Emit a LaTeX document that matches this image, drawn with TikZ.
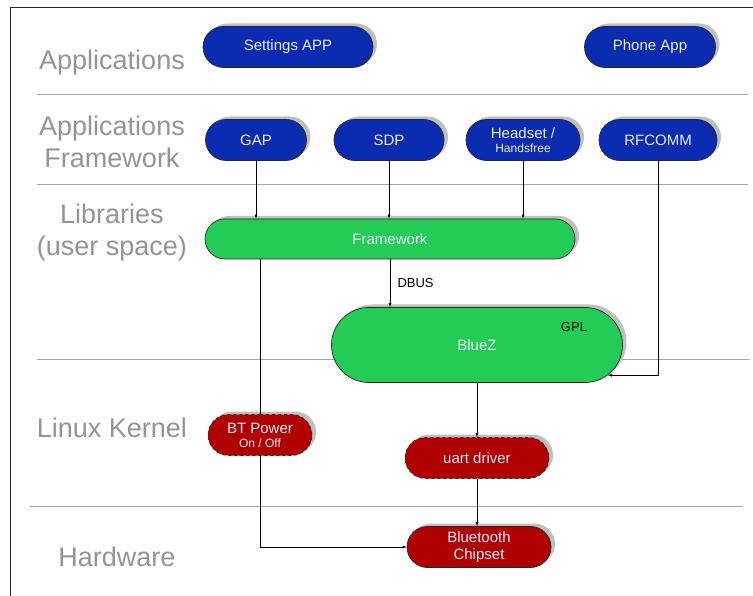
\documentclass[tikz,border=0pt]{standalone}
\usepackage{fontspec}
\setmainfont{Liberation Sans}
\usetikzlibrary{arrows,positioning,shapes.misc,shadows}

\definecolor{appblue}{RGB}{11,43,176}
\definecolor{libgreen}{RGB}{34,204,85}
\definecolor{kred}{RGB}{176,0,0}

\tikzset{
  box/.style={rounded rectangle, draw=black!85, line width=0.7pt, inner sep=0pt,
    minimum height=41pt, text=white!92!blue, align=center, font=\fontsize{15}{17}\selectfont,
    drop shadow={shadow xshift=4pt, shadow yshift=3pt, fill=black!25, opacity=1}},
  appbox/.style={box, fill=appblue},
  libbox/.style={box, fill=libgreen},
  kbox/.style={box, fill=kred},
  layer/.style={text=black!42, align=center, font=\fontsize{27}{32}\selectfont},
  sep/.style={draw=black!35, line width=1pt},
}

\begin{document}
\begin{tikzpicture}[x=1pt, y=-1pt, >=latex]
 \useasboundingbox (0,0) rectangle (753,596);
 \draw[black!85, line width=1pt] (10,596) -- (10,8) -- (753,8);

 % layers
 \node (lapps)   [layer] at (112,63)  {Applications};
 \node (lfw)     [layer] at (112,142) {Applications\\Framework};
 \node (llibs)   [layer] at (112,233) {Libraries\\(user space)};
 \node (lkernel) [layer] at (112,428) {Linux Kernel};
 \node (lhw)     [layer] at (117,557) {Hardware};
 \draw[sep] (37,95)  -- (748,95);
 \draw[sep] (37,185) -- (748,185);
 \draw[sep] (37,359) -- (750,359);
 \draw[sep] (30,506) -- (743,506);

 \node (settings) [appbox, minimum width=170pt] at (288,47)  {Settings APP};
 \node (phone)    [appbox, minimum width=131pt] at (650,47)  {Phone App};
 \node (gap)      [appbox, minimum width=101pt] at (256,140) {GAP};
 \node (sdp)      [appbox, minimum width=110pt] at (389,140) {SDP};
 \node (headset)  [appbox, minimum width=114pt] at (523,140) {Headset /\\[-3pt]{\fontsize{12}{13}\selectfont Handsfree}};
 \node (rfcomm)   [appbox, minimum width=118pt] at (658,140) {RFCOMM};

 \node (fw)    [libbox, minimum width=370pt, minimum height=40pt] at (390,239) {Framework};
 \node (bluez) [libbox, minimum width=291pt, minimum height=75pt] at (477,345) {BlueZ};
 \node (gpl)   [font=\fontsize{13}{15}\selectfont] at (574,327) {GPL};

 \node (btpower) [kbox, dashed, minimum width=104pt] at (260,435) {BT Power\\[-3pt]{\fontsize{12}{13}\selectfont On / Off}};
 \node (uart)    [kbox, dashed, minimum width=144pt] at (477,458) {uart driver};
 \node (chipset) [kbox, minimum width=144pt] at (479,547) {Bluetooth\\Chipset};

 \draw[->] (gap.south) -- (gap.south |- fw.north);
 \draw[->] (sdp.south) -- (sdp.south |- fw.north);
 \draw[->] (headset.south) -- (headset.south |- fw.north);
 \draw[->] (rfcomm.south) |- (bluez.-13);
 \draw[->] (fw.south) -- node[right=4pt, font=\fontsize{13}{15}\selectfont] {DBUS} (fw.south |- bluez.north);
 \draw (btpower.north |- fw.south) -- (btpower.north);
 \draw[->] (btpower.south) |- (chipset.west);
 \draw[->] (bluez.south) -- (uart.north);
 \draw[->] (uart.south) -- (uart.south |- chipset.north);
\end{tikzpicture}
\end{document}
